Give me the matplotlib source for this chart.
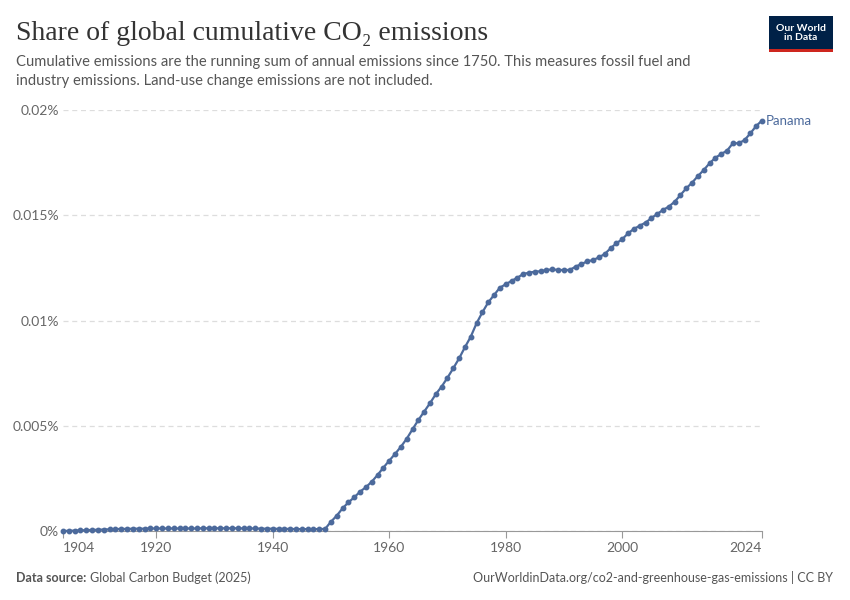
import matplotlib
matplotlib.use("Agg")
import matplotlib.pyplot as plt
from matplotlib.patches import Rectangle

plt.rcParams['font.family'] = ['Lato', 'DejaVu Sans']

# share of global cumulative CO2 emissions, Panama (%)
years = list(range(1904, 2025))
share = [
    0.00000, 0.00001, 0.00002, 0.00003, 0.00004, 0.00005, 0.00006, 0.00007, 0.00008, 0.00009,  # 1904-1913
    0.00010, 0.00010, 0.00011, 0.00011, 0.00011, 0.00012, 0.00012, 0.00012, 0.00012, 0.00012,  # 1914-1923
    0.00012, 0.00012, 0.00012, 0.00012, 0.00013, 0.00013, 0.00013, 0.00013, 0.00013, 0.00013,  # 1924-1933
    0.00013, 0.00012, 0.00012, 0.00012, 0.00011, 0.00011, 0.00011, 0.00010, 0.00010, 0.00010,  # 1934-1943
    0.00009, 0.00009, 0.00009, 0.00009, 0.00009, 0.00010,  # 1944-1949
    0.00044, 0.00073, 0.00108, 0.00136, 0.00160, 0.00187, 0.00208, 0.00234, 0.00266, 0.00301,  # 1950-1959
    0.00334, 0.00366, 0.00400, 0.00438, 0.00483, 0.00527, 0.00567, 0.00607, 0.00650, 0.00686,  # 1960-1969
    0.00728, 0.00773, 0.00820, 0.00873, 0.00923, 0.00987, 0.01039, 0.01086, 0.01121, 0.01156,  # 1970-1979
    0.01172, 0.01188, 0.01203, 0.01221, 0.01227, 0.01232, 0.01234, 0.01240, 0.01243, 0.01240,  # 1980-1989
    0.01240, 0.01240, 0.01256, 0.01268, 0.01281, 0.01287, 0.01300, 0.01316, 0.01343, 0.01367,  # 1990-1999
    0.01386, 0.01414, 0.01435, 0.01450, 0.01465, 0.01486, 0.01506, 0.01525, 0.01541, 0.01564,  # 2000-2009
    0.01596, 0.01628, 0.01655, 0.01686, 0.01715, 0.01747, 0.01773, 0.01791, 0.01807, 0.01842,  # 2010-2019
    0.01842, 0.01857, 0.01889, 0.01924, 0.01950,  # 2020-2024
]
country = "Panama"
xticks = [1904, 1920, 1940, 1960, 1980, 2000, 2024]
yticks = [0, 0.005, 0.01, 0.015, 0.02]
ylabels = ["0%", "0.005%", "0.01%", "0.015%", "0.02%"]

col = "#4c6a9c"
grey = "#666666"

fig = plt.figure(figsize=(8.5, 6), dpi=100)
ax = fig.add_axes([63/850, 69/600, 699/850, 421/600])

ax.plot(years, share, color=col, lw=1.6, marker='o', ms=3.2, zorder=3, clip_on=False)
ax.text(years[-1] + 0.6, share[-1], country, color=col, fontsize=9.5, va='center', ha='left')

ax.set_xlim(1904, 2024)
ax.set_ylim(0, 0.02)
ax.set_yticks(yticks)
ax.set_yticklabels(ylabels)
ax.set_xticks(xticks)
ax.set_xticklabels([str(t) for t in xticks])
xl = ax.get_xticklabels()
xl[0].set_ha('left')
xl[-1].set_ha('right')

for s in ['top', 'right', 'left']:
    ax.spines[s].set_visible(False)
ax.spines['bottom'].set_color('#999999')
ax.tick_params(axis='y', length=0, labelsize=10, labelcolor=grey, pad=3)
ax.tick_params(axis='x', length=5, color='#999999', labelsize=10, labelcolor=grey, pad=3)
ax.grid(axis='y', color='#dddddd', ls=(0, (4, 3)), lw=0.9)
ax.set_axisbelow(True)

# header
fig.text(16/850, 1 - 40/600, "Share of global cumulative CO\u2082 emissions",
         fontsize=20, family=['Liberation Serif', 'DejaVu Serif'], color='#333333', va='baseline')
fig.text(16/850, 1 - 66/600,
         "Cumulative emissions are the running sum of annual emissions since 1750. This measures fossil fuel and",
         fontsize=10.6, color='#555555', va='baseline')
fig.text(16/850, 1 - 85/600,
         "industry emissions. Land-use change emissions are not included.",
         fontsize=10.6, color='#555555', va='baseline')

# logo
fig.patches.append(Rectangle((769/850, 1 - 52/600), 64/850, 36/600, transform=fig.transFigure,
                             facecolor='#002147', edgecolor='none'))
fig.patches.append(Rectangle((769/850, 1 - 52/600), 64/850, 3/600, transform=fig.transFigure,
                             facecolor='#ce261e', edgecolor='none'))
fig.text(801/850, 1 - 33/600, "Our World\nin Data", color='white', fontsize=7.5,
         fontweight='bold', ha='center', va='center', linespacing=1.05)

# footer
fig.text(16/850, 1 - 582/600, "Data source:", fontsize=9, color='#555555', fontweight='bold', va='baseline')
fig.text(90/850, 1 - 582/600, "Global Carbon Budget (2025)", fontsize=9, color='#555555', va='baseline')
fig.text(833/850, 1 - 582/600, "OurWorldinData.org/co2-and-greenhouse-gas-emissions | CC BY",
         fontsize=9, color='#555555', ha='right', va='baseline')

fig.savefig("out.png", dpi=100)
